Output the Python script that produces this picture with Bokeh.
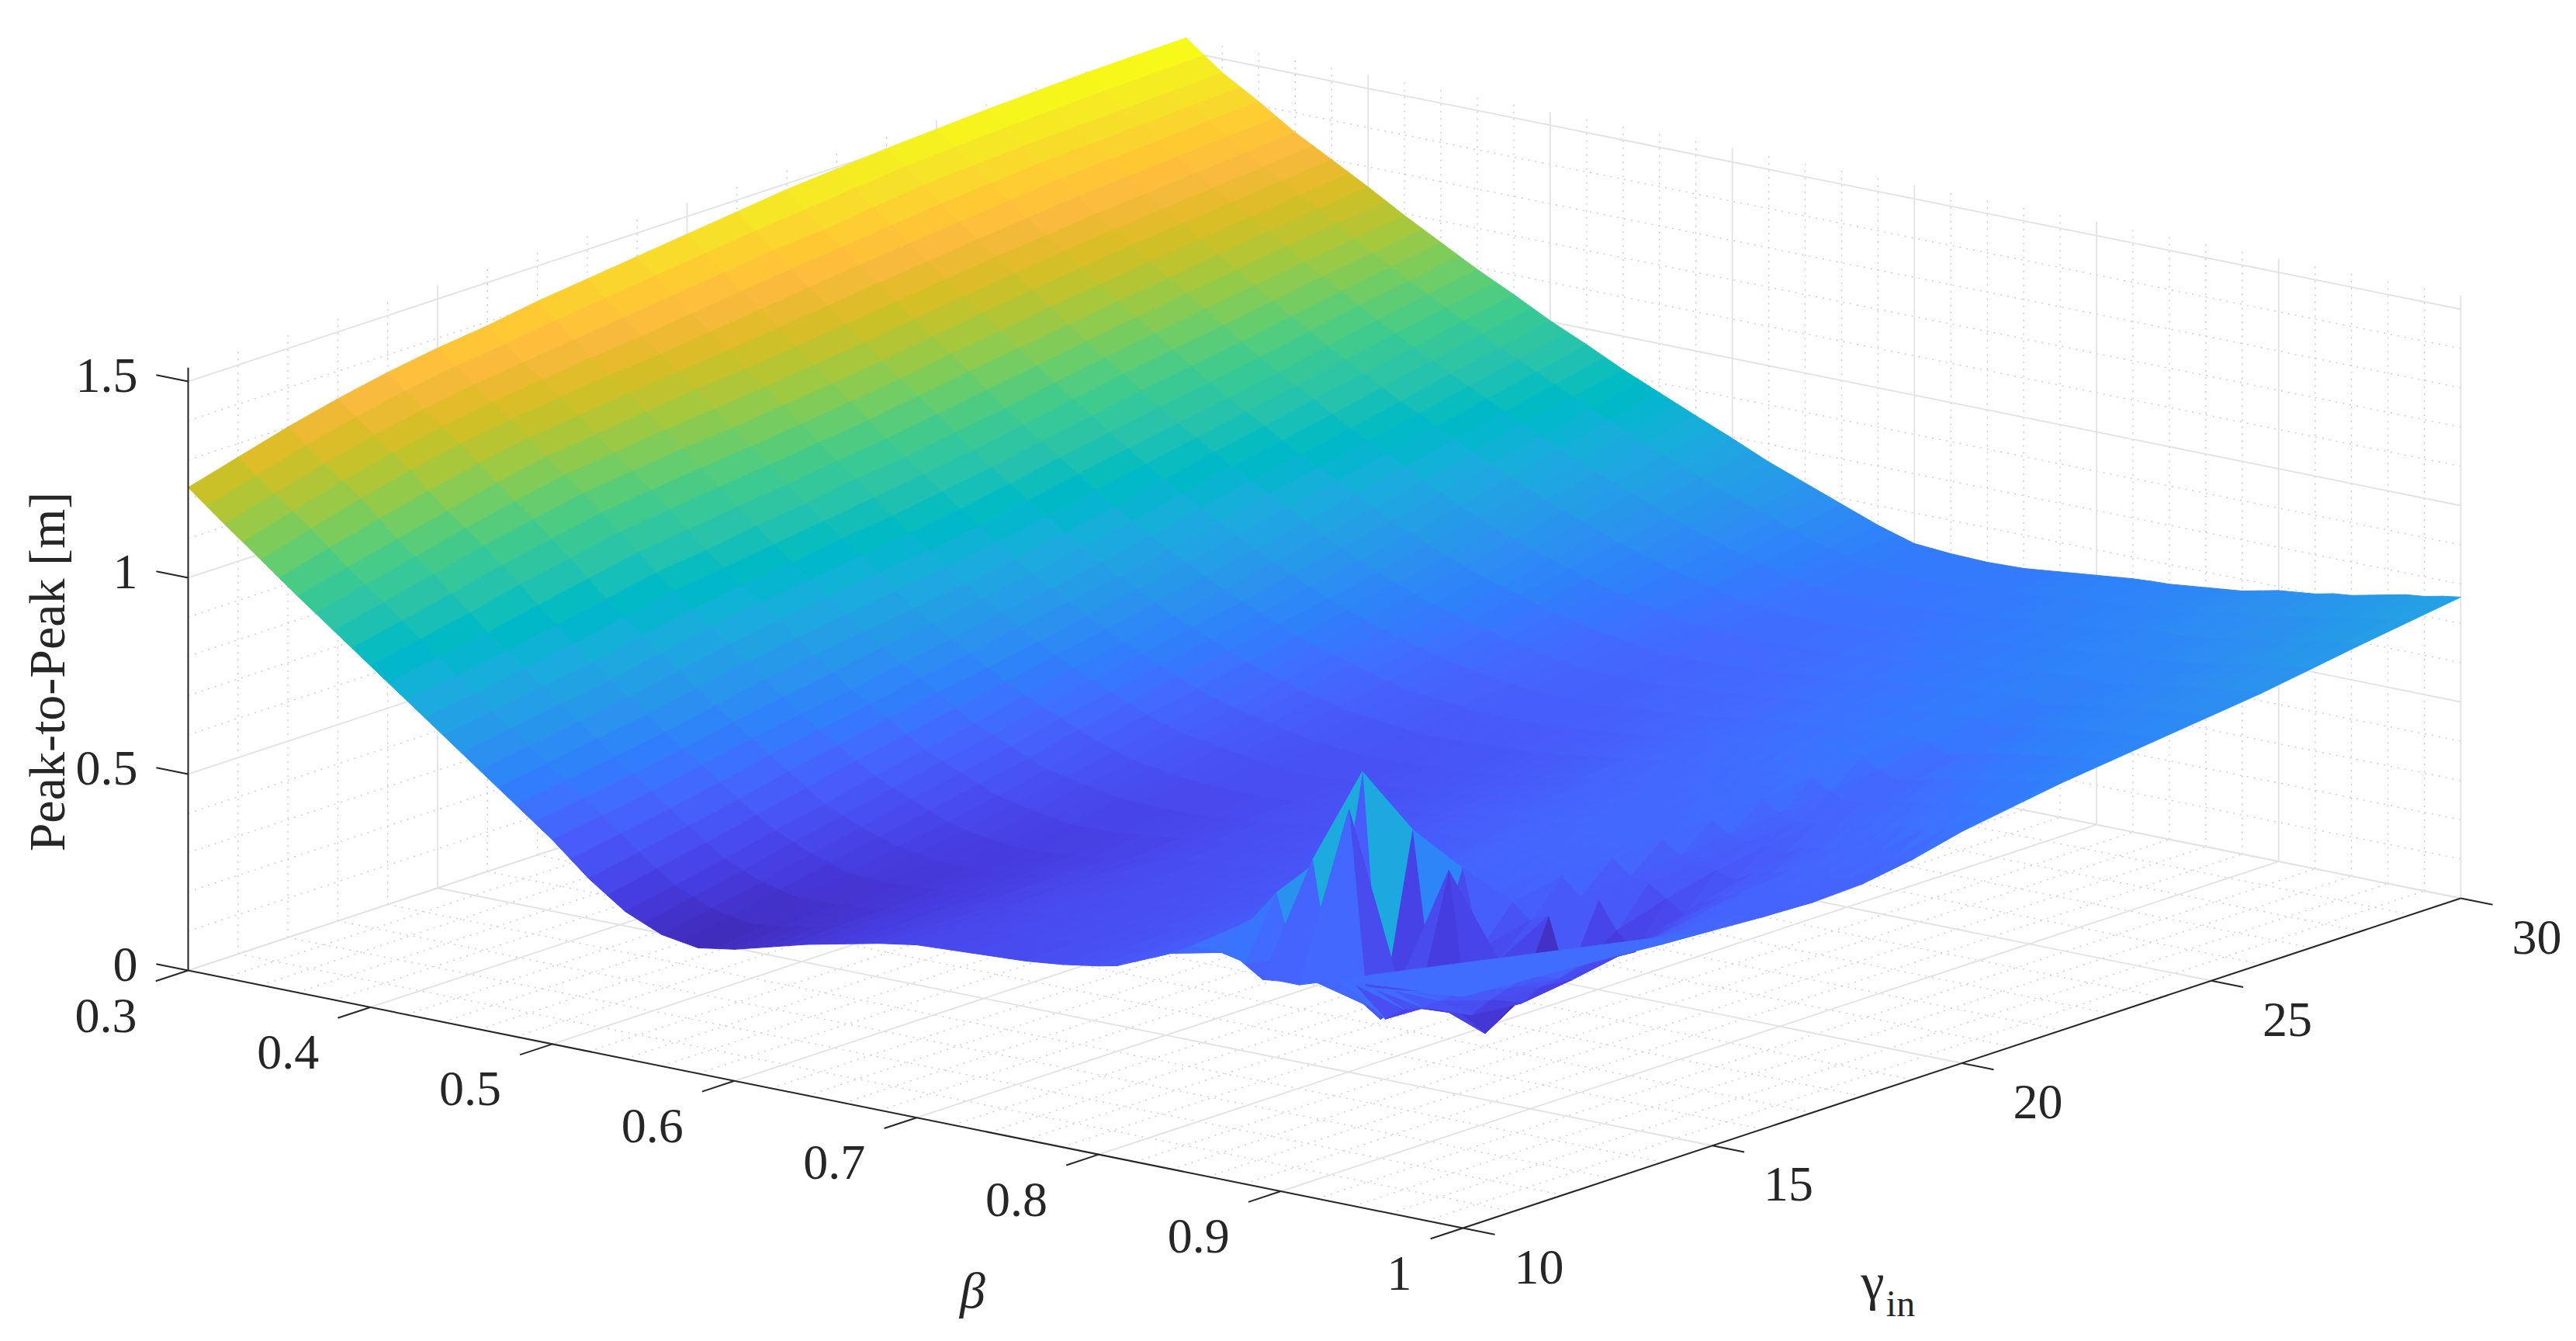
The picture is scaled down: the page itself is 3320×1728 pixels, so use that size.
import numpy as np
from bokeh.plotting import figure
from bokeh.models import Range1d
from bokeh.core.properties import value
from bokeh.embed import file_html
from bokeh.resources import INLINE

beta_grid = [.30,.32,.34,.36,.38,.40,.42,.44,.46,.48,.50,.52,.54,.56,.58,.60,.62,.64,.66,.68,.70,.72,.74,.76,.78,.80,
             .81,.82,.83,.84,.85,.86,.87,.88,.89,.90,.91,.92,.93,.94,.95,.96,.97,.98,.99,1.0]
gamma_grid = [10,11,12,13,14,15,16,17,18,19,20,21,22,24,26,28,30]

z_030 = [1.23,1.265,1.30,1.33,1.355,1.375,1.39,1.41,1.425,1.44,1.455,1.47,1.485,1.505,1.52,1.53,1.535]
z_032 = [1.155,1.19,1.225,1.255,1.28,1.30,1.315,1.33,1.345,1.36,1.375,1.39,1.40,1.43,1.445,1.455,1.465]
z_034 = [1.083,1.12,1.155,1.185,1.21,1.23,1.245,1.26,1.27,1.285,1.30,1.315,1.33,1.355,1.38,1.395,1.41]
z_036 = [1.01,1.04,1.07,1.10,1.13,1.155,1.17,1.185,1.20,1.21,1.225,1.24,1.255,1.285,1.31,1.33,1.35]
z_038 = [.94,.97,1.00,1.03,1.055,1.08,1.095,1.11,1.12,1.135,1.15,1.165,1.185,1.22,1.25,1.275,1.30]
z_040 = [.87,.895,.92,.95,.975,1.00,1.015,1.03,1.045,1.06,1.075,1.095,1.115,1.15,1.185,1.22,1.249]
z_042 = [.80,.82,.84,.865,.89,.915,.93,.95,.965,.985,1.00,1.02,1.04,1.085,1.125,1.16,1.195]
z_044 = [.73,.75,.77,.79,.815,.84,.86,.875,.895,.91,.93,.95,.975,1.02,1.06,1.105,1.145]
z_046 = [.66,.68,.70,.72,.745,.77,.79,.805,.825,.84,.86,.885,.91,.955,1.00,1.05,1.095]
z_048 = [.59,.61,.63,.65,.675,.70,.72,.74,.755,.775,.795,.82,.845,.90,.95,1.00,1.05]
z_050 = [.52,.54,.56,.585,.61,.63,.65,.675,.695,.72,.74,.765,.79,.845,.895,.95,1.002]
z_052 = [.44,.465,.49,.515,.545,.57,.595,.62,.64,.665,.69,.715,.74,.795,.85,.905,.96]
z_054 = [.375,.40,.425,.455,.48,.51,.535,.56,.59,.615,.64,.665,.69,.745,.80,.86,.915]
z_056 = [.335,.36,.385,.415,.44,.47,.495,.52,.55,.575,.60,.625,.65,.70,.755,.815,.875]
z_058 = [.32,.34,.365,.385,.41,.43,.455,.48,.51,.535,.56,.585,.61,.66,.715,.775,.835]
z_060 = [.335,.35,.365,.38,.395,.41,.435,.46,.48,.505,.53,.555,.58,.625,.68,.74,.796]
z_062 = [.36,.37,.375,.385,.39,.40,.42,.445,.465,.49,.51,.53,.555,.60,.65,.70,.755]
z_064 = [.385,.39,.39,.395,.40,.405,.42,.44,.455,.475,.49,.51,.53,.575,.62,.67,.72]
z_066 = [.405,.405,.41,.41,.415,.415,.43,.44,.455,.465,.48,.50,.52,.555,.60,.64,.685]
z_068 = [.425,.425,.425,.43,.43,.43,.44,.45,.455,.465,.475,.49,.51,.54,.58,.615,.65]
z_070 = [.44,.44,.445,.445,.45,.45,.455,.46,.47,.475,.48,.495,.51,.535,.565,.595,.622]
z_072 = [.445,.45,.45,.455,.455,.46,.465,.47,.475,.48,.485,.50,.51,.535,.565,.59,.615]
z_074 = [.45,.455,.46,.46,.465,.47,.475,.48,.485,.49,.495,.505,.52,.545,.565,.59,.612]
z_076 = [.455,.46,.465,.47,.475,.48,.485,.49,.495,.50,.505,.515,.53,.55,.57,.595,.615]
z_078 = [.465,.47,.475,.48,.485,.49,.495,.505,.51,.515,.52,.53,.54,.56,.58,.60,.625]
z_080 = [.48,.485,.49,.495,.50,.505,.51,.515,.525,.53,.535,.545,.555,.57,.59,.61,.635]
z_081 = [.49,.50,.50,.505,.505,.51,.515,.52,.53,.535,.54,.55,.56,.575,.595,.62,.64]
z_082 = [.51,.505,.51,.51,.515,.515,.52,.525,.535,.54,.545,.555,.565,.58,.60,.62,.645]
z_083 = [.53,.52,.535,.52,.52,.53,.53,.535,.54,.545,.55,.56,.57,.585,.605,.625,.648]
z_084 = [.55,.51,.48,.52,.525,.53,.535,.54,.545,.55,.555,.565,.575,.59,.61,.63,.65]
z_085 = [.575,.588,.615,.56,.56,.535,.54,.545,.55,.555,.56,.57,.58,.595,.615,.635,.655]
z_086 = [.585,.49,.46,.75,.55,.54,.54,.545,.55,.555,.56,.57,.585,.60,.62,.64,.66]
z_087 = [.59,.69,.743,.769,.626,.567,.54,.545,.55,.555,.565,.575,.59,.605,.625,.645,.665]
z_088 = [.56,.53,.42,.731,.50,.53,.54,.545,.55,.56,.57,.58,.59,.61,.63,.65,.67]
z_089 = [.53,.792,.975,.786,.646,.518,.54,.545,.55,.56,.57,.58,.595,.615,.635,.66,.68]
z_090 = [.535,.51,.354,.42,.45,.48,.50,.51,.52,.53,.545,.555,.57,.62,.64,.66,.69]
z_091 = [.535,.939,.45,.70,.43,.50,.50,.50,.51,.52,.53,.54,.55,.60,.63,.665,.695]
z_092 = [.55,.45,.402,.342,.33,.348,.43,.47,.50,.52,.535,.55,.56,.61,.64,.67,.70]
z_093 = [.567,.425,.42,.304,.393,.395,.386,.44,.485,.51,.535,.555,.575,.62,.645,.68,.71]
z_094 = [.566,.46,.42,.38,.42,.42,.44,.48,.51,.53,.55,.565,.58,.63,.65,.685,.715]
z_095 = [.565,.474,.412,.40,.417,.44,.47,.50,.52,.54,.56,.575,.59,.635,.66,.69,.725]
z_096 = [.57,.50,.46,.45,.47,.47,.50,.52,.535,.55,.565,.58,.60,.64,.67,.70,.735]
z_097 = [.575,.53,.50,.48,.52,.50,.53,.535,.545,.555,.575,.59,.605,.645,.675,.71,.745]
z_098 = [.58,.555,.54,.53,.535,.525,.535,.535,.545,.555,.58,.60,.615,.65,.68,.72,.75]
z_099 = [.585,.58,.57,.56,.55,.545,.535,.53,.54,.555,.585,.605,.625,.655,.685,.725,.76]
z_100 = [.59,.585,.575,.565,.555,.548,.54,.535,.54,.56,.59,.61,.63,.66,.69,.73,.767]
surface_z = [z_030,z_032,z_034,z_036,z_038,z_040,z_042,z_044,z_046,z_048,z_050,z_052,z_054,z_056,z_058,z_060,z_062,
             z_064,z_066,z_068,z_070,z_072,z_074,z_076,z_078,z_080,z_081,z_082,z_083,z_084,z_085,z_086,z_087,z_088,
             z_089,z_090,z_091,z_092,z_093,z_094,z_095,z_096,z_097,z_098,z_099,z_100]

sheet_beta = [.93,1.0,1.0]
sheet_gamma = [10,10,15]
sheet_z = [.567,.59,.548]

beta_ticks = [.3,.4,.5,.6,.7,.8,.9,1.0]
beta_labels = ["0.3","0.4","0.5","0.6","0.7","0.8","0.9","1"]
gamma_ticks = [10,15,20,25,30]
gamma_labels = ["10","15","20","25","30"]
z_ticks = [0,.5,1.0,1.5]
z_labels = ["0","0.5","1","1.5"]
beta_minor = [round(.3+.02*k,2) for k in range(36)]
gamma_minor = list(range(10,31))
z_minor = [round(.1*k,1) for k in range(16)]
z_top = 1.535
c_low, c_high = .30, 1.535

parula = [(0.2422,0.1504,0.6603),(0.2504,0.1650,0.7076),(0.2578,0.1818,0.7511),(0.2647,0.1978,0.7952),
(0.2706,0.2147,0.8364),(0.2751,0.2342,0.8710),(0.2783,0.2559,0.8991),(0.2803,0.2782,0.9221),(0.2813,0.3006,0.9414),
(0.2810,0.3228,0.9579),(0.2795,0.3447,0.9717),(0.2760,0.3667,0.9829),(0.2699,0.3892,0.9906),(0.2602,0.4123,0.9952),
(0.2440,0.4358,0.9988),(0.2206,0.4603,0.9973),(0.1963,0.4847,0.9892),(0.1834,0.5074,0.9798),(0.1786,0.5289,0.9682),
(0.1764,0.5499,0.9520),(0.1687,0.5703,0.9359),(0.1540,0.5902,0.9218),(0.1460,0.6091,0.9079),(0.1380,0.6276,0.8973),
(0.1248,0.6459,0.8883),(0.1113,0.6635,0.8763),(0.0952,0.6798,0.8598),(0.0689,0.6948,0.8394),(0.0297,0.7082,0.8163),
(0.0036,0.7203,0.7917),(0.0067,0.7312,0.7660),(0.0433,0.7411,0.7394),(0.0964,0.7500,0.7120),(0.1408,0.7584,0.6842),
(0.1717,0.7670,0.6554),(0.1938,0.7758,0.6251),(0.2161,0.7843,0.5923),(0.2470,0.7918,0.5567),(0.2906,0.7973,0.5188),
(0.3406,0.8008,0.4789),(0.3909,0.8029,0.4354),(0.4456,0.8024,0.3909),(0.5044,0.7993,0.3480),(0.5616,0.7942,0.3045),
(0.6174,0.7876,0.2612),(0.6720,0.7793,0.2227),(0.7242,0.7698,0.1910),(0.7738,0.7598,0.1646),(0.8203,0.7498,0.1535),
(0.8634,0.7406,0.1596),(0.9035,0.7330,0.1774),(0.9393,0.7288,0.2100),(0.9728,0.7298,0.2394),(0.9956,0.7434,0.2371),
(0.9970,0.7659,0.2199),(0.9952,0.7861,0.1967),(0.9892,0.8135,0.1885),(0.9786,0.8422,0.1778),(0.9676,0.8724,0.1623),
(0.9610,0.8997,0.1492),(0.9597,0.9255,0.1309),(0.9628,0.9500,0.1167),(0.9691,0.9750,0.0968),(0.9769,0.9839,0.0805)]
PAL = np.array(parula)

# orthographic view: pixel position of the axes box in the page
ORIGIN = np.array([242.0,1250.0]); B_VEC = np.array([1643.0,332.0]); G_VEC = np.array([1286.0,-425.0]); Z_PX = 506.0

def proj(b,g,z):
    b,g,z = np.asarray(b,float),np.asarray(g,float),np.asarray(z,float)
    x = ORIGIN[0]+(b-.3)/.7*B_VEC[0]+(g-10)/20*G_VEC[0]
    y = ORIGIN[1]+(b-.3)/.7*B_VEC[1]+(g-10)/20*G_VEC[1]-z*Z_PX
    return x,y

def colour(v):
    t = min(max((v-c_low)/(c_high-c_low),0),1)*63
    k = min(int(t),62); f = t-k
    c = PAL[k]*(1-f)+PAL[k+1]*f
    return "#%02x%02x%02x" % tuple(int(round(q*255)) for q in c)

p = figure(width=3304,height=1712,x_range=Range1d(0,3304),y_range=Range1d(1712,0),
           output_backend="svg",toolbar_location=None,min_border=0,outline_line_color=None,background_fill_color="white")
p.xgrid.visible=False; p.ygrid.visible=False; p.axis.visible=False

def lines(segs,color,width,dash="solid"):
    x0,y0,x1,y1=[],[],[],[]
    for a,c in segs:
        ax,ay=proj(*a); cx,cy=proj(*c)
        x0.append(float(ax));y0.append(float(ay));x1.append(float(cx));y1.append(float(cy))
    p.segment(x0,y0,x1,y1,line_color=color,line_width=width,line_dash=dash)

minor=[]
for b in beta_minor:
    if b not in beta_ticks:
        minor.append(((b,10,0),(b,30,0))); minor.append(((b,30,0),(b,30,z_top)))
for g in gamma_minor:
    if g not in gamma_ticks:
        minor.append(((.3,g,0),(1,g,0))); minor.append(((.3,g,0),(.3,g,z_top)))
for z in z_minor:
    if z not in z_ticks:
        minor.append(((.3,10,z),(.3,30,z))); minor.append(((.3,30,z),(1,30,z)))
lines(minor,"#cccccc",1.4,"2 7")

major=[]
for b in beta_ticks:
    major.append(((b,10,0),(b,30,0))); major.append(((b,30,0),(b,30,z_top)))
for g in gamma_ticks:
    major.append(((.3,g,0),(1,g,0))); major.append(((.3,g,0),(.3,g,z_top)))
for z in z_ticks:
    major.append(((.3,10,z),(.3,30,z))); major.append(((.3,30,z),(1,30,z)))
lines(major,"#e2e2e2",1.8)

# surface, far facets first
Z = np.array(surface_z)
tx,ty,tc=[],[],[]
def add(tri,col):
    bs=[t[0] for t in tri]; gs=[t[1] for t in tri]; zs=[t[2] for t in tri]
    x,y=proj(bs,gs,zs)
    tx.append(list(map(float,x))); ty.append(list(map(float,y))); tc.append(colour(col))
def rough(i,j):
    return beta_grid[i]>=.81 and gamma_grid[j]<22
for i in range(len(beta_grid)-1):
    for j in range(len(gamma_grid)-2,-1,-1):
        b0,b1=beta_grid[i],beta_grid[i+1]; g0,g1=gamma_grid[j],gamma_grid[j+1]
        z00,z01,z10,z11=Z[i,j],Z[i,j+1],Z[i+1,j],Z[i+1,j+1]
        if rough(i,j):
            add([(b0,g1,z01),(b1,g1,z11),(b1,g0,z10)],float(np.median([z01,z11,z10])))
            add([(b0,g0,z00),(b0,g1,z01),(b1,g0,z10)],float(np.median([z00,z01,z10])))
        else:
            # shade each facet in narrow strips; its corners stay the table values
            nb=2 if b1-b0>.015 else 1; ng=2 if g1-g0>1 else 1
            def S(u,v):
                return (b0+u*(b1-b0),g0+v*(g1-g0),(1-u)*(1-v)*z00+(1-u)*v*z01+u*(1-v)*z10+u*v*z11)
            for a in range(nb):
                for c in range(ng-1,-1,-1):
                    q=[S(a/nb,c/ng),S(a/nb,(c+1)/ng),S((a+1)/nb,(c+1)/ng),S((a+1)/nb,c/ng)]
                    add(q,sum(t[2] for t in q)/4)
sheet=list(zip(sheet_beta,sheet_gamma,sheet_z))
add(sheet,sum(sheet_z)/3)
p.patches(tx,ty,fill_color=tc,line_color=tc,line_width=1)

# axes
ax=[((.3,10,0),(1,10,0)),((1,10,0),(1,30,0)),((.3,10,0),(.3,10,z_top))]
for b in beta_ticks: ax.append(((b,10,0),(b,9.35,0)))
for g in gamma_ticks: ax.append(((1,g,0),(1.0175,g,0)))
for z in z_ticks: ax.append(((.3,10,z),(.2825,10,z)))
lines(ax,"#262626",2)

FONT=value("Liberation Serif")
def labels(x,y,t,align,size,**kw):
    p.text(x=x,y=y,text=t,text_font=FONT,text_font_size=size,text_color="#262626",text_align=align,text_baseline="middle",**kw)

x,y=proj(beta_ticks,[10]*8,[0]*8); labels(list(x-66),list(y+58),beta_labels,"right","64px")
x,y=proj([1]*5,gamma_ticks,[0]*5); labels(list(x+66),list(y+50),gamma_labels,"left","64px")
x,y=proj([.3]*4,[10]*4,z_ticks); labels(list(x-65),list(y-8),z_labels,"right","64px")
labels([60],[865],["Peak-to-Peak [m]"],"center","66px",angle=np.pi/2)
labels([1253],[1662],["β"],"center","66px",text_font_style="italic")
labels([2413],[1651],["γ"],"center","68px")
labels([2449],[1679],["in"],"center","48px")

open("out.html","w").write(file_html(p,INLINE))
